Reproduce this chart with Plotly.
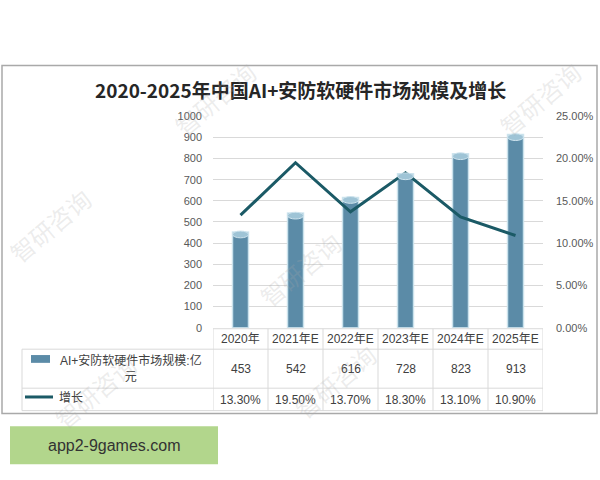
import plotly.graph_objects as go

# ---------------- data ----------------
categories = ["2020年", "2021年E", "2022年E", "2023年E", "2024年E", "2025年E"]
market_size = [453, 542, 616, 728, 823, 913]          # 亿元
growth_pct = [13.3, 19.5, 13.7, 18.3, 13.1, 10.9]     # %
title_text = "2020-2025年中国AI+安防软硬件市场规模及增长"
series_bar_name = "AI+安防软硬件市场规模:亿元"
series_line_name = "增长"
left_ticks = list(range(0, 1001, 100))
right_ticks = [0, 5, 10, 15, 20, 25]

W, H = 600, 480
def px(x):
    return x / W
def py(y):
    return 1 - y / H

BAR_COLOR = "#5b8ba7"
LINE_COLOR = "#1b5a66"
GRID = "#d9d9d9"
TXT = "#404040"
FONT = "Liberation Sans, Noto Sans CJK SC, sans-serif"

# plot area pixels
PL, PR, PT, PB = 213, 543, 113, 330

fig = go.Figure()

fig.add_trace(go.Bar(
    x=list(range(len(categories))), y=market_size, name=series_bar_name,
    width=0.29, marker=dict(color=BAR_COLOR, line=dict(color="rgba(205,228,238,0.9)", width=1.5)),
    yaxis="y", showlegend=False,
))
fig.add_trace(go.Scatter(
    x=list(range(len(categories))), y=growth_pct, name=series_line_name,
    mode="lines", line=dict(color=LINE_COLOR, width=3),
    yaxis="y2", showlegend=False,
))

shapes = []
annotations = []

def ann(text, x, y, xref="paper", size=12, color=TXT, family=FONT, xanchor="center", **kw):
    d = dict(text=text, xref=xref, yref="paper", x=x, y=y, showarrow=False,
             xanchor=xanchor, yanchor="middle", font=dict(family=family, size=size, color=color))
    d.update(kw)
    annotations.append(d)

# cylinder tops
for i, v in enumerate(market_size):
    shapes.append(dict(type="circle", xref="x", yref="y",
                       x0=i - 0.145, x1=i + 0.145, y0=v - 28, y1=v + 4,
                       fillcolor="#9fc4d6", line=dict(color="#cfe4ee", width=1), layer="above"))

# outer frame
shapes.append(dict(type="rect", xref="paper", yref="paper",
                   x0=px(2), x1=px(597), y0=py(418), y1=py(61),
                   line=dict(color="#a9a9a9", width=1.5), fillcolor="rgba(0,0,0,0)"))

# table lines
TL = 22
rows_y = [331, 352, 392, 415]
shapes.append(dict(type="line", xref="paper", yref="paper", x0=px(PL), x1=px(PR), y0=py(331), y1=py(331),
                   line=dict(color=GRID, width=1)))
for yy in rows_y[1:]:
    shapes.append(dict(type="line", xref="paper", yref="paper", x0=px(TL), x1=px(PR), y0=py(yy), y1=py(yy),
                       line=dict(color=GRID, width=1)))
shapes.append(dict(type="line", xref="paper", yref="paper", x0=px(TL), x1=px(TL), y0=py(352), y1=py(415),
                   line=dict(color=GRID, width=1)))
for i in range(len(categories) + 1):
    shapes.append(dict(type="line", xref="x", yref="paper", x0=i - 0.5, x1=i - 0.5, y0=py(331), y1=py(415),
                       line=dict(color=GRID, width=1)))

# legend keys in table
shapes.append(dict(type="rect", xref="paper", yref="paper", x0=px(31), x1=px(50), y0=py(366), y1=py(358),
                   fillcolor=BAR_COLOR, line=dict(width=0)))
shapes.append(dict(type="line", xref="paper", yref="paper", x0=px(25), x1=px(53), y0=py(401), y1=py(401),
                   line=dict(color=LINE_COLOR, width=3)))

# green watermark box
shapes.append(dict(type="rect", xref="paper", yref="paper", x0=px(10), x1=px(218), y0=py(470), y1=py(431),
                   fillcolor="#b2d68c", line=dict(width=0)))

# title
ann("<b>" + title_text + "</b>", px(300), py(86), size=19, color="#262626", family="Noto Sans CJK SC")

# table text
for i, c in enumerate(categories):
    ann(c, i, py(342), xref="x")
    ann(str(market_size[i]), i, py(372), xref="x")
    ann(f"{growth_pct[i]:.2f}%", i, py(404), xref="x")

ann(series_bar_name[:-1] + "<br>" + series_bar_name[-1], px(131), py(372), align="center")
ann(series_line_name, px(57), py(402), xanchor="left")

ann("app2-9games.com", px(114), py(451), size=16, color="#333333", family="Liberation Sans, sans-serif")

# faint watermarks
for (wx, wy) in [(215, 95), (540, 95), (50, 225), (300, 270), (95, 395), (335, 385)]:
    ann("智研咨询", px(wx), py(wy), size=24, color="rgba(170,170,170,0.22)",
        family="Noto Sans CJK SC", textangle=-40)

fig.update_layout(
    width=W, height=H,
    margin=dict(l=0, r=0, t=0, b=0),
    paper_bgcolor="white", plot_bgcolor="white",
    showlegend=False,
    xaxis=dict(domain=[px(PL), px(PR)], range=[-0.5, len(categories) - 0.5],
               showticklabels=False, showgrid=False, zeroline=False, showline=False, ticks=""),
    yaxis=dict(domain=[py(PB), py(PT)], range=[0, 1000], tickvals=left_ticks,
               showgrid=True, gridcolor=GRID, gridwidth=1, zeroline=False, showline=False,
               tickfont=dict(family=FONT, size=11, color="#595959"), ticklabelstandoff=10),
    yaxis2=dict(overlaying="y", side="right", range=[0, 25], tickvals=right_ticks,
                ticktext=[f"{t:.2f}%" for t in right_ticks],
                showgrid=False, zeroline=False, showline=False,
                tickfont=dict(family=FONT, size=11, color="#595959"), ticklabelstandoff=12),
    shapes=shapes, annotations=annotations,
)

fig.write_html("out.html", config={"displayModeBar": False},
               post_script=["document.body.style.margin='0';document.body.style.overflow='hidden';"])
